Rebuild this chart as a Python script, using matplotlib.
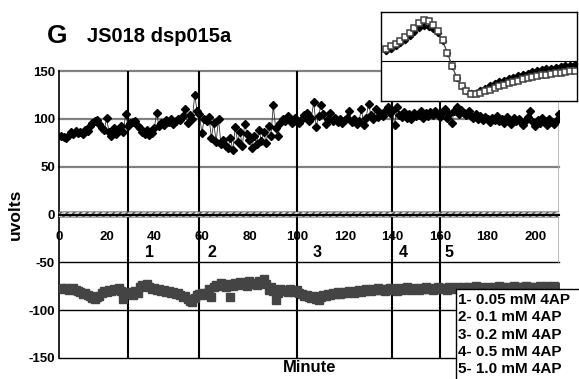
import matplotlib
matplotlib.use('Agg')
import matplotlib.pyplot as plt
import matplotlib.patches as patches
import numpy as np

plt.rcParams['font.family'] = ['Liberation Sans', 'DejaVu Sans']
plt.rcParams['font.weight'] = 'bold'
plt.rcParams['axes.unicode_minus'] = False
plt.rcParams['hatch.linewidth'] = 1.2

# amplitude of the upper response, one sample per minute
upper = [82, 81, 80, 83, 86, 84, 87, 85, 86, 84,
         88, 87, 92, 96, 98, 99, 95, 90, 88, 101,
         86, 82, 90, 84, 88, 92, 86, 105, 93, 96,
         97, 98, 93, 90, 86, 84, 88, 83, 85, 90,
         106, 92, 96, 94, 99, 97, 100, 95, 98, 100,
         99, 103, 110, 96, 104, 100, 125, 108, 105, 85,
         100, 98, 102, 80, 96, 76, 100, 74, 78, 72,
         70, 80, 67, 91, 76, 86, 72, 95, 84, 78,
         70, 82, 74, 88, 77, 86, 75, 93, 82, 114,
         90, 82, 96, 100, 98, 103, 99, 96, 101, 97,
         96, 100, 104, 106, 98, 101, 118, 91, 103, 114,
         105, 95, 100, 106, 98, 101, 97, 100, 96, 99,
         101, 108, 97, 100, 95, 98, 110, 94, 101, 116,
         104, 100, 110, 102, 106, 103, 108, 112, 106, 108,
         94, 112, 104, 102, 107, 101, 105, 100, 106, 103,
         104, 108, 101, 106, 103, 107, 104, 108, 105, 102,
         106, 110, 101, 105, 96, 108, 112, 105, 109, 106,
         104, 108, 103, 101, 105, 100, 103, 99, 102, 100,
         97, 101, 99, 103, 98, 100, 96, 102, 99, 95,
         101, 98, 100, 97, 94, 99, 102, 108, 97, 93,
         99, 96, 101, 98, 94, 100, 97, 95, 99, 105]

# amplitude of the lower response
lower = [-77, -78, -77, -79, -78, -77, -79, -80, -81, -83,
         -82, -84, -85, -87, -88, -86, -85, -82, -80, -81,
         -79, -80, -78, -79, -77, -80, -88, -82, -83, -81,
         -84, -80, -82, -76, -74, -75, -73, -76, -78, -77,
         -79, -78, -80, -79, -81, -80, -82, -81, -83, -82,
         -84, -86, -85, -88, -90, -91, -87, -84, -83, -82,
         -84, -82, -78, -86, -76, -74, -75, -72, -74, -76,
         -73, -86, -75, -72, -74, -71, -73, -72, -75, -70,
         -73, -72, -74, -70, -72, -67, -73, -79, -76, -80,
         -89, -82, -78, -80, -79, -81, -78, -80, -81, -79,
         -82, -83, -85, -84, -86, -87, -85, -88, -89, -86,
         -84, -85, -83, -84, -82, -83, -81, -83, -82, -81,
         -82, -80, -81, -82, -80, -79, -81, -80, -78, -79,
         -80, -78, -79, -77, -79, -78, -80, -78, -77, -79,
         -78, -80, -77, -79, -78, -76, -78, -79, -77, -78,
         -79, -77, -78, -76, -78, -77, -79, -78, -76, -77,
         -78, -77, -79, -76, -77, -78, -76, -77, -78, -76,
         -77, -76, -78, -77, -75, -77, -76, -78, -77, -76,
         -77, -78, -76, -77, -75, -76, -78, -77, -76, -77,
         -75, -77, -76, -78, -76, -75, -77, -76, -78, -76,
         -77, -75, -76, -77, -75, -76, -77, -75, -76, -77]

minutes = np.arange(1, len(upper) + 1)
baseline_min = np.arange(0, 211, 0.5)
baseline = [0.0] * len(baseline_min)

# drug applications
drug_times = [29, 59, 100, 140, 160]
drug_labels = ['1', '2', '3', '4', '5']
drug_legend = ['1- 0.05 mM 4AP', '2- 0.1 mM 4AP', '3- 0.2 mM 4AP',
               '4- 0.5 mM 4AP', '5- 1.0 mM 4AP']

# averaged waveforms for the inset
wave_after = [12.3, 14.7, 17, 20.3, 23.7, 28, 33, 38, 40.7, 39.7,
              36.3, 30.3, 20.7, 8, -5.3, -17, -25.3, -30.3, -33, -33,
              -32, -30.3, -28.7, -27, -25.3, -23.7, -22.3, -21, -19.7, -18.3,
              -17.3, -16.3, -15.3, -14.3, -13.7, -13, -12.3, -11.7, -11, -10.3, -9.7]
wave_before = [10, 12.5, 15, 18, 21, 25, 29, 33, 34.7, 34,
               32, 28, 20, 8, -5, -17, -25, -30, -32, -31.5,
               -29, -26.5, -24, -22, -20, -18.5, -17, -15.5, -14, -12.7,
               -11.5, -10.3, -9.3, -8.3, -7.3, -6.5, -5.7, -5, -4.3, -3.7, -3]

W, H = 579, 379
fig = plt.figure(figsize=(W / 100, H / 100), dpi=100)
ax = fig.add_axes([59 / W, 1 - 358 / H, 500 / W, 287 / H])
ax.set_xlim(0, 210)
ax.set_ylim(-150, 150)

for y in [50, 100, 150]:
    ax.axhline(y, color='#808080', lw=1.6, zorder=1, clip_on=False)
for y in [-50, -100, -150]:
    ax.axhline(y, color='black', lw=1.0, zorder=1, clip_on=False)
ax.plot([210, 210], [-50, 150], color='#b0b0b0', lw=1.2, zorder=1)
for t in drug_times:
    ax.axvline(t, color='black', lw=1.5, zorder=2)

ax.plot(minutes, upper, color='#303030', lw=0.6, marker='D', ms=4.3,
        mfc='black', mec='black', zorder=4)
ax.plot(minutes, lower, ls='none', marker='s', ms=5.8, mfc='#444444',
        mec='#444444', zorder=4)
ax.scatter(baseline_min, baseline, marker='s', s=18, facecolor='white',
           edgecolor='#555555', linewidth=0.2, hatch='/////', zorder=3)

ax.spines['top'].set_visible(False)
ax.spines['right'].set_visible(False)
ax.spines['bottom'].set_position(('data', 0))
ax.spines['bottom'].set_linewidth(1.5)
ax.spines['bottom'].set_zorder(5)
ax.spines['left'].set_linewidth(1.2)

ax.set_xticks(range(0, 201, 20))
ax.set_yticks(range(-150, 151, 50))
ax.tick_params(axis='both', length=0, labelsize=9.5)
ax.tick_params(axis='x', pad=12)
ax.tick_params(axis='y', pad=3)
for lab in ax.get_xticklabels() + ax.get_yticklabels():
    lab.set_fontweight('bold')

for t, lab, dx in zip(drug_times, drug_labels, [9, 5.3, 8.6, 4.5, 3.8]):
    ax.text(t + dx, -40, lab, fontsize=11.5, fontweight='bold',
            ha='center', va='center', zorder=6)

fig.text(15 / W, 1 - 214 / H, 'uvolts', rotation=90, fontsize=12.5,
         fontweight='bold', ha='center', va='center')
fig.text(310 / W, 1 - 367 / H, 'Minute', fontsize=12, fontweight='bold',
         ha='center', va='center')
fig.text(47 / W, 1 - 36 / H, 'G', fontsize=19, fontweight='bold',
         ha='left', va='center')
fig.text(87 / W, 1 - 37 / H, 'JS018 dsp015a', fontsize=14.5, fontweight='bold',
         ha='left', va='center')

# drug concentration key
fig.patches.append(patches.Rectangle((456 / W, -0.01), 0.3, (379 - 289) / H + 0.01,
                                     transform=fig.transFigure, facecolor='white',
                                     edgecolor='black', lw=1, zorder=10))
for i, txt in enumerate(drug_legend):
    fig.text(458 / W, 1 - (300 + 17.3 * i) / H, txt, fontsize=11,
             fontweight='bold', ha='left', va='center', zorder=11)

# inset with the averaged waveforms
ins = fig.add_axes([381 / W, 1 - 101 / H, 196 / W, 89 / H])
ins.set_xlim(-1.1, 40.5)
ins.set_ylim(-40, 49)
ins.axhline(0, color='black', lw=0.8)
idx = np.arange(len(wave_after))
ins.plot(idx, wave_before, color='black', lw=0.7, marker='D', ms=3.2,
         mfc='black', mec='black')
ins.plot(idx, wave_after, color='#606060', lw=0.5, marker='s', ms=5,
         mfc='white', mec='#404040', mew=1.1)
ins.set_xticks([])
ins.set_yticks([])
for s in ins.spines.values():
    s.set_linewidth(1.0)

fig.savefig('out.png', dpi=100)
